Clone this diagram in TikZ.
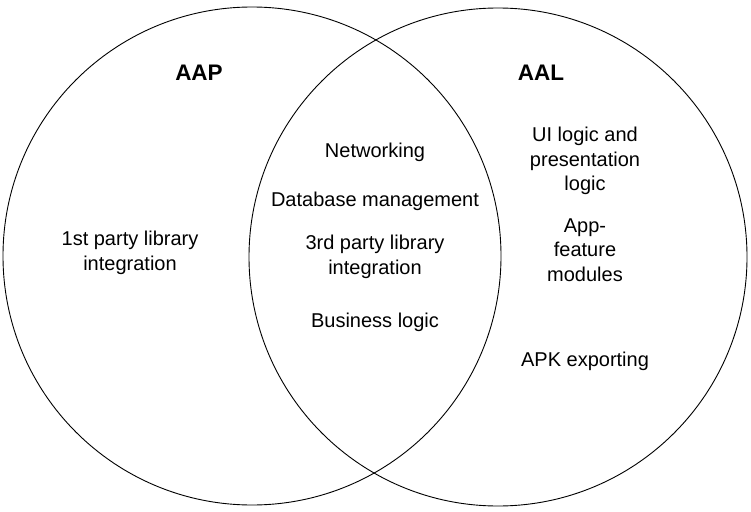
\documentclass[tikz,border=0pt]{standalone}
\usepackage{fontspec}
\setmainfont{Liberation Sans}
\usepackage{tikz}

\begin{document}
\begin{tikzpicture}[
    x=1pt, y=-1pt,
    set node/.style={circle,draw,line width=0.9pt,minimum size=498pt,inner sep=0pt},
    title label/.style={font=\fontsize{22.5}{26}\selectfont\bfseries},
    item label/.style={align=center,font=\fontsize{20}{24.5}\selectfont}
]
    \useasboundingbox (0,0) rectangle (751,511);

    \node[set node] (aap) at (252,256) {};
    \node[set node] (aal) at (498,257) {};

    \node[title label] (aaptitle) at (199,73) {AAP};
    \node[title label] (aaltitle) at (541,73) {AAL};

    \node[item label] (net) at (375,152) {Networking};
    \node[item label] (db) at (375,201) {Database management};
    \node[item label] (third) at (375,257) {3rd party library\\integration};
    \node[item label] (biz) at (375,322) {Business logic};

    \node[item label] (first) at (130,253) {1st party library\\integration};

    \node[item label] (ui) at (585,161) {UI logic and\\presentation\\logic};
    \node[item label] (feat) at (585,250) {App-\\feature\\modules};
    \node[item label] (apk) at (585,361) {APK exporting};
\end{tikzpicture}
\end{document}
